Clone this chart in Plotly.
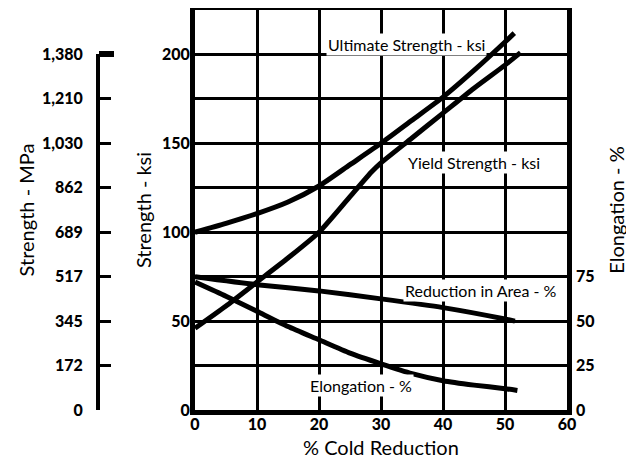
import plotly.graph_objects as go

# ---- data ----
cold_reduction_ult = [0, 5, 10, 15, 20, 25, 30, 35, 40, 45, 50, 51.5]
ultimate_ksi = [100, 105, 110.5, 117, 126, 138, 150, 163, 176, 191, 207, 212]

cold_reduction_yld = [0, 5, 10, 15, 20, 25, 28.5, 30, 35, 40, 45, 50, 52.5]
yield_ksi = [46, 58.5, 72, 85.5, 100, 120, 134, 139, 153, 167, 181, 194, 201]

cold_reduction_ra = [0, 10, 20, 30, 40, 50, 51.6]
reduction_area_pct = [75, 70.5, 67, 62.5, 57.6, 51.2, 50]

cold_reduction_el = [0, 5, 10, 15, 20, 25, 30, 35, 40, 45, 50, 52]
elongation_pct = [72, 64, 55.5, 47, 39.5, 32, 26, 20.5, 16.5, 14, 12, 11]

x_ticks = [0, 10, 20, 30, 40, 50, 60]
ksi_ticks = [0, 25, 50, 75, 100, 125, 150, 175, 200]
ksi_labels = ["0", "", "50", "", "100", "", "150", "", "200"]
mpa_labels = ["0", "172", "345", "517", "689", "862", "1,030", "1,210", "1,380"]
mpa_end_ticks = [0, 200]
pct_ticks = [0, 25, 50, 75]

FONT = "Lato"
# page body has an 8px margin, so the figure is drawn 8px in from the window edge
W, H = 626, 452
ML, MR, MT, MB = 32, 67, 2, 50
pw = W - ML - MR
ph = H - MT - MB
x_dom0 = (187 - ML) / pw
mpa_pos = (90 - ML) / pw
ksi_max = 225

fig = go.Figure()
line = dict(color="black", width=5, shape="spline", smoothing=0.6)
fig.add_trace(go.Scatter(x=cold_reduction_ult, y=ultimate_ksi, mode="lines", line=line,
                         xaxis="x", yaxis="y", hoverinfo="skip"))
fig.add_trace(go.Scatter(x=cold_reduction_yld, y=yield_ksi, mode="lines", line=line,
                         xaxis="x", yaxis="y", hoverinfo="skip"))
fig.add_trace(go.Scatter(x=cold_reduction_ra, y=reduction_area_pct, mode="lines", line=line,
                         xaxis="x", yaxis="y2", hoverinfo="skip"))
fig.add_trace(go.Scatter(x=cold_reduction_el, y=elongation_pct, mode="lines", line=line,
                         xaxis="x", yaxis="y2", hoverinfo="skip"))
# carrier traces for MPa axes
fig.add_trace(go.Scatter(x=[], y=[], xaxis="x", yaxis="y3", hoverinfo="skip"))
fig.add_trace(go.Scatter(x=[], y=[], xaxis="x", yaxis="y4", hoverinfo="skip"))

tickfont = dict(family=FONT, size=16, color="black", weight=900)
titlefont = dict(family=FONT, size=20, color="black")

fig.update_layout(
    width=W, height=H, showlegend=False,
    margin=dict(l=ML, r=MR, t=MT, b=MB),
    paper_bgcolor="white", plot_bgcolor="rgba(0,0,0,0)",
    xaxis=dict(domain=[x_dom0, 1], range=[0, 60], tickvals=x_ticks, showline=True,
               linewidth=5, linecolor="black", mirror=True, showgrid=True,
               gridcolor="black", gridwidth=2.5, zeroline=False, ticks="",
               tickfont=tickfont, ticklabelstandoff=-4, automargin=False,
               anchor="y"),
    yaxis=dict(range=[0, ksi_max], tickvals=ksi_ticks, ticktext=ksi_labels, showline=True,
               linewidth=5, linecolor="black", mirror=True, showgrid=True,
               gridcolor="black", gridwidth=2.5, zeroline=False, ticks="",
               tickfont=tickfont, automargin=False, ticklabelstandoff=-3,
               title=dict(text="Strength - ksi", font=titlefont, standoff=6),
               anchor="x"),
    yaxis2=dict(range=[0, ksi_max], overlaying="y", side="right", tickvals=pct_ticks,
                showline=False, showgrid=False, zeroline=False, ticks="", tickfont=tickfont,
                ticklabelstandoff=8, automargin=False,
                title=dict(text="Elongation - %", font=titlefont, standoff=16), anchor="x"),
    yaxis3=dict(domain=[0, 200 / ksi_max], range=[0, 200], anchor="free", position=mpa_pos,
                side="left", tickvals=ksi_ticks, ticktext=mpa_labels, showline=True,
                linewidth=4, linecolor="black", showgrid=False, zeroline=False,
                ticks="inside", ticklen=11, tickwidth=3, tickcolor="black",
                ticklabelstandoff=10, automargin=False, tickfont=tickfont),
    yaxis4=dict(domain=[0, 1], range=[0, ksi_max], anchor="free", position=mpa_pos, side="left",
                tickvals=mpa_end_ticks, ticktext=["", ""], showline=False, showgrid=False,
                zeroline=False, ticks="inside", ticklen=15, tickwidth=6, tickcolor="black",
                automargin=False, tickfont=tickfont,
                title=dict(text="Strength - MPa", font=titlefont, standoff=57)),
)

# x-axis title
fig.add_annotation(text="% Cold Reduction", xref="paper", yref="paper",
                   x=(x_dom0 + 1) / 2, y=-(439 - (H - MB)) / ph, xanchor="center",
                   yanchor="middle", showarrow=False, font=titlefont)

ann_font = dict(family=FONT, size=16, color="black")
for txt, ax, ay in [("Ultimate Strength - ksi", 34.1, 205.8),
                    ("Yield Strength - ksi", 45, 139),
                    ("Reduction in Area - %", 46.2, 67.1),
                    ("Elongation - %", 26.7, 13.7)]:
    fig.add_annotation(text=txt, x=ax, y=ay, xref="x", yref="y", showarrow=False,
                       font=ann_font, bgcolor="white", borderpad=1)

fig.write_html("out.html")
